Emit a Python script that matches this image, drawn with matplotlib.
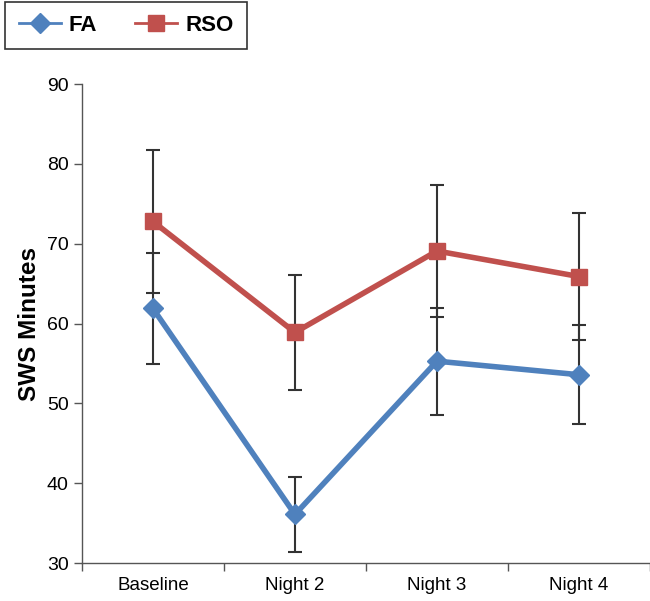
import numpy as np
import matplotlib
matplotlib.use("Agg")
import matplotlib.pyplot as plt

plt.rcParams['font.family'] = ['Liberation Sans', 'DejaVu Sans']

# ----------------------------
# Data
# ----------------------------
nights = ["Baseline", "Night 2", "Night 3", "Night 4"]
fa_mean = [61.9, 36.1, 55.3, 53.6]
fa_err = [7.0, 4.7, 6.7, 6.2]
rso_mean = [72.8, 58.9, 69.1, 65.9]
rso_err = [9.0, 7.2, 8.3, 7.9]

blue = "#4F81BD"
red = "#C0504D"
errcol = "#333333"

# ----------------------------
# Plot
# ----------------------------
fig = plt.figure(figsize=(6.5, 6.01), dpi=100)
ax = fig.add_axes([0.126, 0.063, 0.874, 0.797])

x = np.arange(len(nights))

for mean, err in [(fa_mean, fa_err), (rso_mean, rso_err)]:
    ax.errorbar(x, mean, yerr=err, fmt='none', ecolor=errcol,
                elinewidth=1.5, capsize=5, capthick=1.5, zorder=2)

ax.plot(x, fa_mean, color=blue, lw=4, marker='D', markersize=10,
        label="FA", zorder=3)
ax.plot(x, rso_mean, color=red, lw=4, marker='s', markersize=12,
        label="RSO", zorder=4)

ax.set_xlim(-0.5, 3.5)
ax.set_ylim(30, 90)
ax.set_yticks([30, 40, 50, 60, 70, 80, 90])

# category boundaries as tick marks, labels centred in between
ax.set_xticks(np.arange(-0.5, 4.0, 1.0))
ax.set_xticklabels([])
ax.set_xticks(x, minor=True)
ax.set_xticklabels(nights, minor=True)
ax.tick_params(axis='x', which='major', length=6, width=1, color='#555555')
ax.tick_params(axis='x', which='minor', length=0, labelsize=13.5, pad=10)
ax.tick_params(axis='y', length=6, width=1, color='#555555', labelsize=14)

for s in ['top', 'right']:
    ax.spines[s].set_visible(False)
for s in ['left', 'bottom']:
    ax.spines[s].set_color('#555555')
    ax.spines[s].set_linewidth(1)

ax.set_ylabel("SWS Minutes", fontsize=17.5, fontweight='bold', labelpad=4)

leg = fig.legend(loc='upper left', bbox_to_anchor=(0.008, 0.997), ncol=2,
                 fancybox=False, edgecolor='#333333', framealpha=1,
                 prop={'weight': 'bold', 'size': 16}, handlelength=1.9,
                 handletextpad=0.36, columnspacing=1.7, borderpad=0.6,
                 borderaxespad=0)
leg.get_frame().set_linewidth(1.2)
for h in leg.legend_handles:
    h.set_linewidth(2)

fig.savefig("out.png", dpi=100)
